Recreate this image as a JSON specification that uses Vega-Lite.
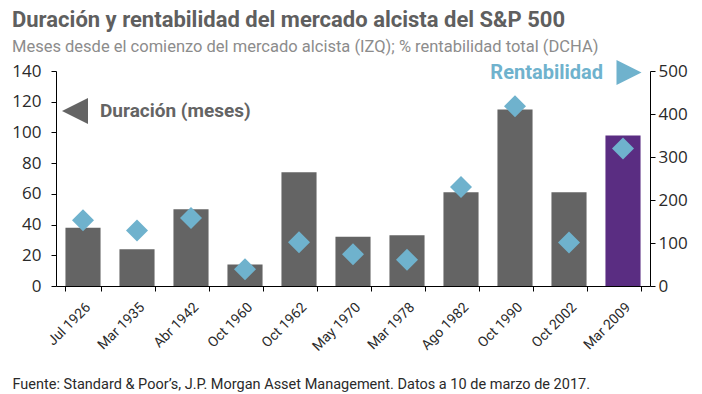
{
  "$schema": "https://vega.github.io/schema/vega-lite/v6.json",
  "width": 594,
  "height": 215,
  "autosize": {"type": "none"},
  "padding": {"left": 56, "top": 71, "right": 52, "bottom": 108},
  "background": "white",
  "config": {
    "view": {"stroke": null},
    "font": "Roboto, sans-serif",
    "axisY": {
      "labelOverlap": false,
      "labelFlush": false,
      "grid": false,
      "domainColor": "#000000",
      "tickColor": "#000000",
      "tickSize": 5,
      "labelFont": "Open Sans",
      "labelFontSize": 17,
      "labelColor": "#2a2a2a",
      "title": null
    }
  },
  "title": {
    "text": "Duración y rentabilidad del mercado alcista del S&P 500",
    "subtitle": "Meses desde el comienzo del mercado alcista (IZQ); % rentabilidad total (DCHA)",
    "anchor": "start",
    "frame": "group",
    "dx": -44,
    "offset": 4,
    "font": "Roboto, sans-serif",
    "fontSize": 22,
    "fontWeight": "bold",
    "color": "#5f5f5f",
    "subtitleFont": "Roboto, sans-serif",
    "subtitleFontSize": 16.5,
    "subtitleColor": "#8c8c8c",
    "subtitlePadding": 7
  },
  "datasets": {
    "main": [
      {"date": "Jul 1926", "dur": 38, "ret": 153},
      {"date": "Mar 1935", "dur": 24, "ret": 129},
      {"date": "Abr 1942", "dur": 50, "ret": 158},
      {"date": "Oct 1960", "dur": 14, "ret": 39},
      {"date": "Oct 1962", "dur": 74, "ret": 102},
      {"date": "May 1970", "dur": 32, "ret": 74},
      {"date": "Mar 1978", "dur": 33, "ret": 61},
      {"date": "Ago 1982", "dur": 61, "ret": 230},
      {"date": "Oct 1990", "dur": 115, "ret": 418},
      {"date": "Oct 2002", "dur": 61, "ret": 101},
      {"date": "Mar 2009", "dur": 98, "ret": 320}
    ]
  },
  "layer": [
    {
      "layer": [
        {
          "data": {"name": "main"},
          "mark": {"type": "bar"},
          "encoding": {
            "x": {
              "field": "date",
              "type": "nominal",
              "sort": null,
              "scale": {
                "domain": ["Jul 1926", "Mar 1935", "Abr 1942", "Oct 1960", "Oct 1962", "May 1970", "Mar 1978", "Ago 1982", "Oct 1990", "Oct 2002", "Mar 2009"],
                "paddingInner": 0.35,
                "paddingOuter": 0.175
              },
              "axis": {
                "title": "Fuente: Standard & Poor’s, J.P. Morgan Asset Management. Datos a 10 de marzo de 2017.",
                "titleAnchor": "start",
                "titleAlign": "left",
                "titleBaseline": "alphabetic",
                "titleX": -44,
                "titleY": 102,
                "titleFontSize": 14.5,
                "titleFontWeight": "normal",
                "titleColor": "#2a2a2a",
                "labelAngle": -45,
                "labelFontSize": 14,
                "labelColor": "#2a2a2a",
                "labelPadding": 9,
                "domainColor": "#000000",
                "tickColor": "#000000",
                "tickBand": "extent",
                "tickSize": 5
              }
            },
            "y": {
              "field": "dur",
              "type": "quantitative",
              "scale": {"domain": [0, 140], "nice": false},
              "axis": {"orient": "left", "values": [0, 20, 40, 60, 80, 100, 120, 140], "labelPadding": 10}
            },
            "color": {
              "condition": {"test": "datum.date === 'Mar 2009'", "value": "#5a2d82"},
              "value": "#646464"
            }
          }
        },
        {
          "data": {"values": [{"date": "Jul 1926", "v": 114, "label": "Duración (meses)"}]},
          "mark": {"type": "point", "shape": "M-1,0L1,-1L1,1Z", "filled": true, "opacity": 1, "size": 676, "color": "#646464", "xOffset": -8},
          "encoding": {
            "x": {"field": "date", "type": "nominal"},
            "y": {"field": "v", "type": "quantitative", "axis": {"orient": "left", "values": [0, 20, 40, 60, 80, 100, 120, 140], "labelPadding": 10}}
          }
        },
        {
          "data": {"values": [{"date": "Jul 1926", "v": 114, "label": "Duración (meses)"}]},
          "mark": {"type": "text", "align": "left", "baseline": "middle", "dx": 17, "fontSize": 19, "fontWeight": "bold", "color": "#646464"},
          "encoding": {
            "x": {"field": "date", "type": "nominal"},
            "y": {"field": "v", "type": "quantitative", "axis": {"orient": "left", "values": [0, 20, 40, 60, 80, 100, 120, 140], "labelPadding": 10}},
            "text": {"field": "label"}
          }
        },
        {
          "data": {"values": [{"date": "Mar 2009", "v": 139, "label": "Rentabilidad"}]},
          "mark": {"type": "point", "shape": "M1,0L-1,-1L-1,1Z", "filled": true, "opacity": 1, "size": 625, "color": "#6fb2cd", "xOffset": 6},
          "encoding": {
            "x": {"field": "date", "type": "nominal"},
            "y": {"field": "v", "type": "quantitative", "axis": {"orient": "left", "values": [0, 20, 40, 60, 80, 100, 120, 140], "labelPadding": 10}}
          }
        },
        {
          "data": {"values": [{"date": "Mar 2009", "v": 139, "label": "Rentabilidad"}]},
          "mark": {"type": "text", "align": "right", "baseline": "middle", "dx": -20, "fontSize": 20, "fontWeight": "bold", "color": "#6fb2cd"},
          "encoding": {
            "x": {"field": "date", "type": "nominal"},
            "y": {"field": "v", "type": "quantitative", "axis": {"orient": "left", "values": [0, 20, 40, 60, 80, 100, 120, 140], "labelPadding": 10}},
            "text": {"field": "label"}
          }
        }
      ]
    },
    {
      "data": {"name": "main"},
      "mark": {"type": "point", "shape": "diamond", "filled": true, "opacity": 1, "size": 484, "color": "#6fb2cd"},
      "encoding": {
        "x": {"field": "date", "type": "nominal", "sort": null},
        "y": {
          "field": "ret",
          "type": "quantitative",
          "scale": {"domain": [0, 500], "nice": false},
          "axis": {"orient": "right", "values": [0, 100, 200, 300, 400, 500], "labelPadding": 3}
        }
      }
    }
  ],
  "resolve": {"scale": {"y": "independent"}}
}
